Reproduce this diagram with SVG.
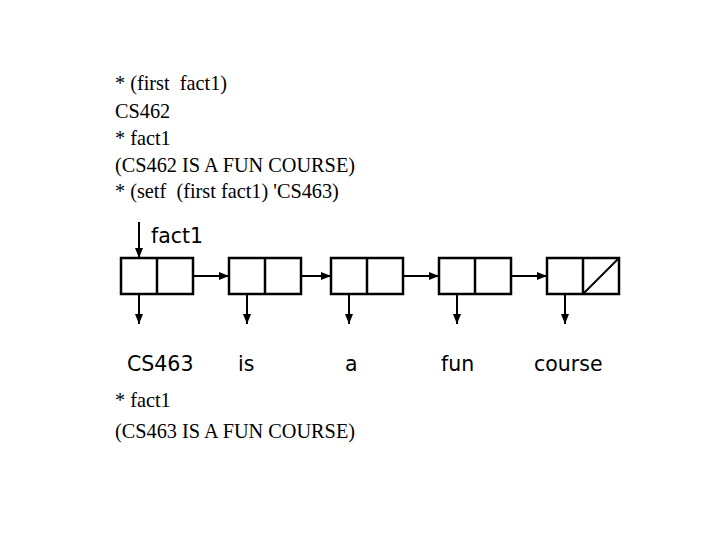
<svg xmlns="http://www.w3.org/2000/svg" width="720" height="540" viewBox="0 0 720 540">
<defs>
<marker id="ah" viewBox="0 0 10 10" refX="10" refY="5" markerWidth="10" markerHeight="10" markerUnits="userSpaceOnUse" orient="auto">
<path d="M0,1 L10,5 L0,9 Z" fill="#000"/>
</marker>
</defs>
<style>
.t{font-family:"Liberation Serif","Times New Roman",serif;font-size:20.3px;fill:#000;white-space:pre}
.s{font-family:"DejaVu Sans",Verdana,sans-serif;font-size:20.5px;fill:#000}
.c{fill:#fff;stroke:#000;stroke-width:2.5}
.l{stroke:#000;stroke-width:2;fill:none}
</style>
<rect width="720" height="540" fill="#fff"/>
<g id="code">
<text class="t" x="115" y="90" xml:space="preserve">* (first  fact1)</text>
<text class="t" x="115" y="118">CS462</text>
<text class="t" x="115" y="145">* fact1</text>
<text class="t" x="115" y="172">(CS462 IS A FUN COURSE)</text>
<text class="t" x="115" y="198" xml:space="preserve">* (setf  (first fact1) 'CS463)</text>
<text class="t" x="115" y="407">* fact1</text>
<text class="t" x="115" y="438">(CS463 IS A FUN COURSE)</text>
</g>
<g id="label-fact1"><text class="s" x="151" y="243">fact1</text></g>
<g id="cell1"><rect class="c" x="121" y="258" width="72" height="36"/><line class="l" x1="157" y1="258" x2="157" y2="294" style="stroke-width:2.5"/></g>
<g id="cell2"><rect class="c" x="229" y="258" width="72" height="36"/><line class="l" x1="265" y1="258" x2="265" y2="294" style="stroke-width:2.5"/></g>
<g id="cell3"><rect class="c" x="331" y="258" width="72" height="36"/><line class="l" x1="367" y1="258" x2="367" y2="294" style="stroke-width:2.5"/></g>
<g id="cell4"><rect class="c" x="439" y="258" width="72" height="36"/><line class="l" x1="475" y1="258" x2="475" y2="294" style="stroke-width:2.5"/></g>
<g id="cell5"><rect class="c" x="547" y="258" width="72" height="36"/><line class="l" x1="583" y1="258" x2="583" y2="294" style="stroke-width:2.5"/><line class="l" x1="583" y1="294" x2="619" y2="258"/></g>
<g id="w1"><text class="s" x="127" y="371">CS463</text></g>
<g id="w2"><text class="s" x="238" y="371">is</text></g>
<g id="w3"><text class="s" x="345" y="371">a</text></g>
<g id="w4"><text class="s" x="441" y="371">fun</text></g>
<g id="w5"><text class="s" x="534" y="371">course</text></g>
<g id="connectors">
<line class="l" x1="139" y1="222" x2="139" y2="258" marker-end="url(#ah)"/>
<line class="l" x1="193" y1="276" x2="229" y2="276" marker-end="url(#ah)"/>
<line class="l" x1="301" y1="276" x2="331" y2="276" marker-end="url(#ah)"/>
<line class="l" x1="403" y1="276" x2="439" y2="276" marker-end="url(#ah)"/>
<line class="l" x1="511" y1="276" x2="547" y2="276" marker-end="url(#ah)"/>
<line class="l" x1="139" y1="294" x2="139" y2="324" marker-end="url(#ah)"/>
<line class="l" x1="247" y1="294" x2="247" y2="324" marker-end="url(#ah)"/>
<line class="l" x1="349" y1="294" x2="349" y2="324" marker-end="url(#ah)"/>
<line class="l" x1="457" y1="294" x2="457" y2="324" marker-end="url(#ah)"/>
<line class="l" x1="565" y1="294" x2="565" y2="324" marker-end="url(#ah)"/>
</g>
</svg>
